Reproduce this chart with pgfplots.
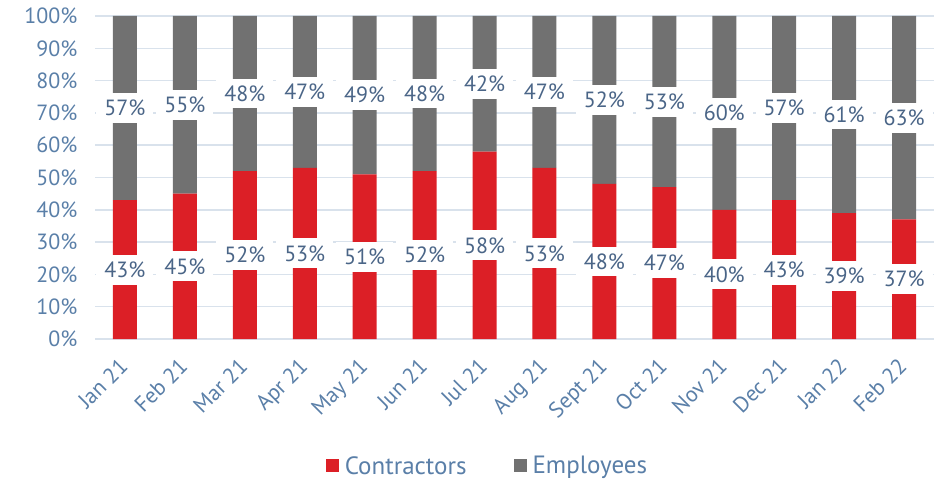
\documentclass[border=0pt]{standalone}
\usepackage{pgfplots}
\usepackage{pgfplotstable}
\pgfplotsset{compat=1.18}
\usepackage{fontspec}
\setmainfont{PT Sans}
\definecolor{cred}{HTML}{DC1F26}
\definecolor{cgray}{HTML}{717171}
\definecolor{tickc}{HTML}{5A7FA8}
\definecolor{lblc}{HTML}{4A6587}
\definecolor{gridc}{HTML}{D9E2EC}
\newcommand{\bigf}{\fontsize{22}{24}\selectfont}

% contractors / employees share, per month
\pgfplotstableread{
x c e
0 43 57
1 45 55
2 52 48
3 53 47
4 51 49
5 52 48
6 58 42
7 53 47
8 48 52
9 47 53
10 40 60
11 43 57
12 39 61
13 37 63
}\shares

\pgfplotsset{frame/.style={
    scale only axis, width=839pt, height=323pt,
    at={(0,0)}, anchor=south west,
    xmin=-0.5, xmax=13.5, ymin=0, ymax=100}}

\begin{document}
\begin{tikzpicture}
\useasboundingbox (-95pt,-140pt) rectangle (853pt,339pt);
\begin{axis}[
    frame,
    ybar stacked, bar width=24pt,
    xtick={0,...,13},
    xticklabels={Jan 21,Feb 21,Mar 21,Apr 21,May 21,Jun 21,Jul 21,Aug 21,Sept 21,Oct 21,Nov 21,Dec 21,Jan 22,Feb 22},
    ytick={0,10,...,100},
    yticklabel={\pgfmathparse{int(\tick)}\pgfmathresult\%},
    axis line style={draw=none},
    major tick length=0pt,
    ymajorgrids, grid style={gridc, line width=1.5pt},
    tick label style={font=\bigf, text=tickc},
    yticklabel style={xshift=-14pt},
    xticklabel style={xshift=-7pt, yshift=-13pt, rotate=45, anchor=north east},
    legend style={at={(0.5,-0.35)}, anchor=north, xshift=-25pt, draw=none,
        font=\fontsize{25}{27}\selectfont, text=tickc, legend columns=2,
        nodes={inner xsep=6pt},
        /tikz/every even column/.append style={column sep=41pt}},
    legend cell align=left,
]
\addplot[fill=cred, draw=none,
  legend image code/.code={\fill[cred] (0pt,-6.5pt) rectangle (13pt,6.5pt);}]
  table[x=x, y=c] {\shares};
\addplot[fill=cgray, draw=none,
  legend image code/.code={\fill[cgray] (0pt,-6.5pt) rectangle (13pt,6.5pt);}]
  table[x=x, y=e] {\shares};
\legend{Contractors, Employees}
\end{axis}
% value labels, centred in each segment
\begin{axis}[
    frame, hide axis,
    nodes near coords={\pgfmathprintnumber[assume math mode=true, precision=0]{\pgfplotspointmeta}\%},
    point meta=explicit,
    every node near coord/.append style={anchor=center, fill=white,
        inner xsep=8pt, inner ysep=7pt, text=lblc, font=\bigf},
]
\addplot[draw=none, mark=none] table[x=x, y expr=\thisrow{c}/2, meta=c] {\shares};
\addplot[draw=none, mark=none] table[x=x, y expr=\thisrow{c}+\thisrow{e}/2, meta=e] {\shares};
\end{axis}
\end{tikzpicture}
\end{document}
